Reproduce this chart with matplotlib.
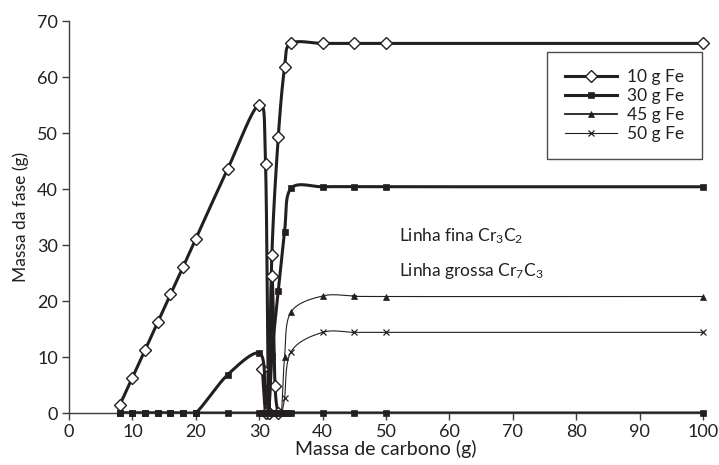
import numpy as np
import matplotlib
matplotlib.use("Agg")
import matplotlib.pyplot as plt
from matplotlib.lines import Line2D

plt.rcParams['font.family'] = ['Lato', 'DejaVu Sans']
plt.rcParams['mathtext.fontset'] = 'custom'
plt.rcParams['mathtext.rm'] = 'Lato'
plt.rcParams['mathtext.it'] = 'Lato:italic'

INK = '#231f20'

# ---- data ----
x_ticks = [0, 10, 20, 30, 40, 50, 60, 70, 80, 90, 100]
y_ticks = [0, 10, 20, 30, 40, 50, 60, 70]

# 10 g Fe  - Cr7C3 (thick)
x10_a = [8, 10, 12, 14, 16, 18, 20, 25, 30, 31, 31.5, 32, 32.5, 33]
y10_a = [1.4, 6.3, 11.25, 16.25, 21.2, 26.1, 31.1, 43.5, 55.0, 44.4, 0, 24.5, 4.8, 0]
# 10 g Fe  - second phase curve
x10_b = [30.5, 31, 31.5, 32, 33, 34, 35, 40, 45, 50, 100]
y10_b = [7.8, 0, 0, 28.3, 49.2, 61.7, 66.0, 66.0, 66.0, 66.0, 66.0]

# 30 g Fe - Cr7C3 (thick)
x30_a = [8, 10, 12, 14, 16, 18, 20, 25, 30, 31, 31.5, 32, 32.5, 33, 33.5, 34, 34.5, 35, 40, 45, 50, 100]
y30_a = [0, 0, 0, 0, 0, 0, 0, 6.8, 10.7, 4.4, 0, 0, 0, 0, 0, 0, 0, 0, 0, 0, 0, 0]
# 30 g Fe - second phase curve
x30_b = [8, 10, 12, 14, 16, 18, 20, 25, 30, 30.5, 31, 31.5, 32, 33, 34, 35, 40, 45, 50, 100]
y30_b = [0, 0, 0, 0, 0, 0, 0, 0, 0, 0, 0, 0, 10.2, 21.8, 32.4, 40.1, 40.4, 40.4, 40.4, 40.4]

# 45 g Fe (thin)
x45 = [33, 33.5, 34, 35, 40, 45, 50, 100]
y45 = [0, 0, 10.0, 18.0, 20.9, 20.9, 20.8, 20.8]

# 50 g Fe (thin)
x50 = [33, 33.5, 34, 35, 40, 45, 50, 100]
y50 = [0, 0, 2.6, 10.9, 14.4, 14.4, 14.4, 14.4]

legend_labels = ['10 g Fe', '30 g Fe', '45 g Fe', '50 g Fe']

# ---- figure ----
W, H = 719, 465
fig = plt.figure(figsize=(W / 100, H / 100), dpi=100)
ax_l, ax_b, ax_w, ax_h = 69 / W, 1 - 413 / H, 634 / W, 392 / H
ax = fig.add_axes([ax_l, ax_b, ax_w, ax_h])
ax.set_xlim(0, 100)
ax.set_ylim(0, 70)

SX = ax_w * W / 100.0
SY = ax_h * H / 70.0


def smooth(xs, ys, n=40):
    """Excel-like smoothed line (Bezier through points, in screen space)."""
    P = np.column_stack([np.asarray(xs, float) * SX, np.asarray(ys, float) * SY])
    out = [P[0]]
    t = np.linspace(0, 1, n)[1:, None]
    for i in range(len(P) - 1):
        p0 = P[i - 1] if i > 0 else P[i]
        p1, p2 = P[i], P[i + 1]
        p3 = P[i + 2] if i + 2 < len(P) else P[i + 1]
        c1 = p1 + (p2 - p0) / 6.0
        c2 = p2 - (p3 - p1) / 6.0
        seg = (1 - t) ** 3 * p1 + 3 * (1 - t) ** 2 * t * c1 + 3 * (1 - t) * t ** 2 * c2 + t ** 3 * p2
        out.extend(seg)
    a = np.array(out)
    return a[:, 0] / SX, a[:, 1] / SY


THICK = 2.2
THIN = 0.8

styles = {
    'd': dict(marker='D', ms=6.5, mfc='white', mec=INK, mew=1.0),
    's': dict(marker='s', ms=4.8, mfc=INK, mec=INK, mew=0.5),
    't': dict(marker='^', ms=5.0, mfc=INK, mec=INK, mew=0.5),
    'x': dict(marker='x', ms=4.5, mfc=INK, mec=INK, mew=0.9),
}

series = [
    (x10_a, y10_a, THICK, 'd', 3),
    (x10_b, y10_b, THICK, 'd', 3),
    (x45, y45, THIN, 't', 4),
    (x50, y50, THIN, 'x', 4),
    (x30_a, y30_a, THICK, 's', 5),
    (x30_b, y30_b, THICK, 's', 5),
]

for xs, ys, lw, mk, z in series:
    cx, cy = smooth(xs, ys)
    ax.plot(cx, cy, color=INK, lw=lw, solid_joinstyle='round', zorder=z)
    ax.plot(xs, ys, linestyle='none', clip_on=False, zorder=z + 0.5, **styles[mk])

# ---- axes styling ----
for s in ['top', 'right']:
    ax.spines[s].set_visible(False)
for s in ['left', 'bottom']:
    ax.spines[s].set_color('#3c3c3c')
    ax.spines[s].set_linewidth(1.0)
ax.spines['bottom'].set_zorder(2)

ax.set_xticks(x_ticks)
ax.set_yticks(y_ticks)
ax.set_xticklabels([str(v) for v in x_ticks])
ax.set_yticklabels([str(v) for v in y_ticks])
ax.tick_params(axis='both', direction='out', length=5, width=1.0, color='#3c3c3c',
               labelsize=13, labelcolor=INK, pad=3)

ax.set_xlabel('Massa de carbono (g)', fontsize=14, color=INK, labelpad=0)
ax.set_ylabel('Massa da fase (g)', fontsize=12.5, color=INK, labelpad=6)

ax.text(52.0, 30.6, r'Linha fina Cr$_3$C$_2$', fontsize=12.5, color=INK, ha='left', va='baseline')
ax.text(52.0, 24.5, r'Linha grossa Cr$_7$C$_3$', fontsize=12.5, color=INK, ha='left', va='baseline')

handles = [
    Line2D([], [], color=INK, lw=THICK, **styles['d']),
    Line2D([], [], color=INK, lw=THICK, **styles['s']),
    Line2D([], [], color=INK, lw=1.3, **styles['t']),
    Line2D([], [], color=INK, lw=THIN, **styles['x']),
]
leg = ax.legend(handles, legend_labels, loc='upper right', bbox_to_anchor=(0.998, 0.921),
                fontsize=12.5, frameon=True, fancybox=False, edgecolor=INK,
                handlelength=3.0, handletextpad=0.6, labelspacing=0.16,
                borderpad=1.0, borderaxespad=0.0)
leg.get_frame().set_linewidth(1.0)
for t in leg.get_texts():
    t.set_color(INK)

fig.savefig('out.png', dpi=100)
